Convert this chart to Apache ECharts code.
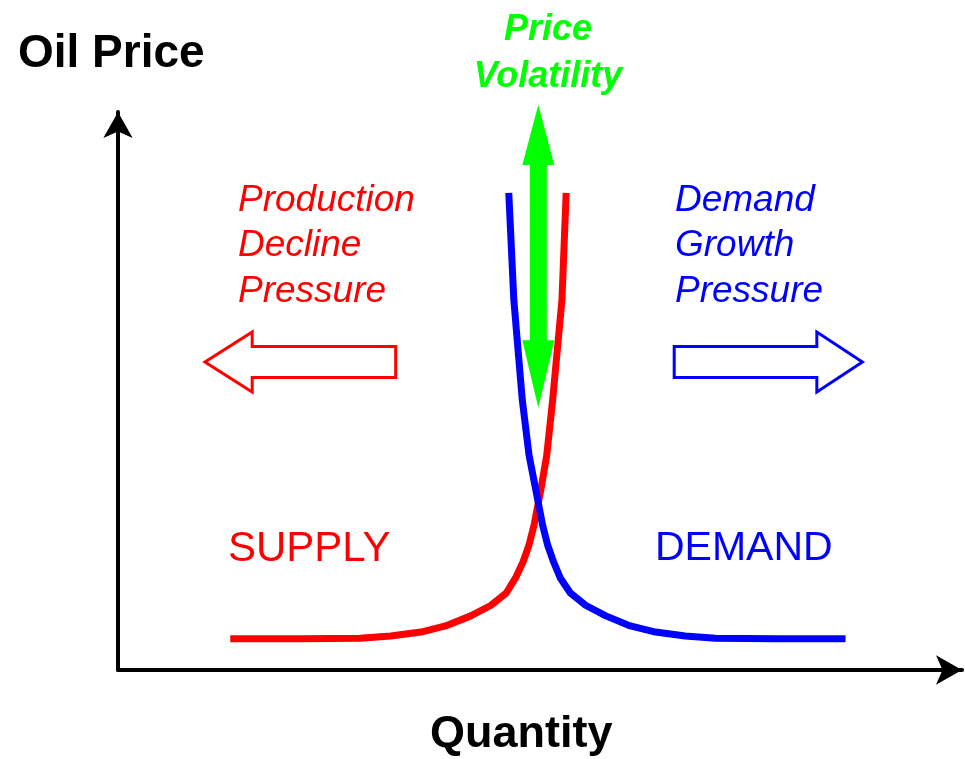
<!DOCTYPE html>
<html lang="en">
  <head>
    <meta charset="UTF-8" />
    <title>Oil Price Volatility</title>
    <style>
      html, body { margin: 0; padding: 0; background: #fff; }
    </style>
  </head>
  <body>
    <div id="main" style="width: 965px; height: 759px"></div>

    <script src="https://cdn.jsdelivr.net/npm/echarts@6/dist/echarts.min.js"></script>
    <script>
      // ===== data (quantity 0-100, price 0-100) =====
      const supplyQ = [13.3, 21.6, 28.7, 32.3, 35.9, 38.8, 41.8, 44.2, 46.0, 47.1, 48.0, 48.7, 49.3, 50.1, 50.8, 51.5, 52.6, 53.1]
      const supplyP = [5.6, 5.6, 5.7, 6.1, 6.8, 7.9, 9.7, 11.6, 13.8, 16.5, 19.4, 22.4, 26.0, 32.3, 38.5, 48.4, 66.3, 85.5]
      const demandQ = [86.2, 77.9, 70.8, 67.2, 63.7, 60.7, 57.8, 55.4, 53.6, 52.4, 51.6, 50.9, 50.3, 49.5, 48.7, 47.9, 46.9, 46.3]
      const demandP = [5.6, 5.6, 5.7, 6.1, 6.8, 7.9, 9.7, 11.6, 13.8, 16.5, 19.4, 22.4, 26.0, 32.3, 38.5, 48.4, 66.3, 85.5]

      // pressure arrows: [tail quantity, head base quantity, tip quantity, price]
      const supplyArrow = [32.9, 15.9, 10.3, 55.2]
      const demandArrow = [65.9, 82.8, 88.2, 55.2]
      // volatility arrow: [quantity, low tip, low head base, high head base, high tip]
      const volatilityArrow = [49.8, 47.0, 59.1, 90.5, 101.3]

      const myChart = echarts.init(document.getElementById('main'))

      const toPairs = (xs, ys) => xs.map((x, i) => [x, ys[i]])

      // hollow block arrow pointing left or right
      function pressureRender(color) {
        return function (params, api) {
          const tail = api.coord([api.value(0), api.value(3)])
          const base = api.coord([api.value(1), api.value(3)])
          const tip = api.coord([api.value(2), api.value(3)])
          const y = tail[1]
          const bh = 15.5
          const hh = 30
          return {
            type: 'polygon',
            shape: {
              points: [
                [tail[0], y - bh], [base[0], y - bh], [base[0], y - hh], [tip[0], y],
                [base[0], y + hh], [base[0], y + bh], [tail[0], y + bh]
              ]
            },
            style: { fill: '#fff', stroke: color, lineWidth: 3, lineJoin: 'miter' }
          }
        }
      }

      const option = {
        backgroundColor: '#fff',
        animation: false,
        grid: { left: 118, right: 3, top: 112, bottom: 89 },
        xAxis: {
          type: 'value', min: 0, max: 100,
          axisLine: { show: true, symbol: ['none', 'arrow'], symbolSize: [22, 26], lineStyle: { color: '#000', width: 4 } },
          axisTick: { show: false }, axisLabel: { show: false }, splitLine: { show: false }
        },
        yAxis: {
          type: 'value', min: 0, max: 100,
          axisLine: { show: true, symbol: ['none', 'arrow'], symbolSize: [22, 26], lineStyle: { color: '#000', width: 4 } },
          axisTick: { show: false }, axisLabel: { show: false }, splitLine: { show: false }
        },
        series: [
          {
            name: 'Supply', type: 'line', data: toPairs(supplyQ, supplyP),
            smooth: false, showSymbol: false, lineStyle: { color: '#ff0000', width: 7, join: 'round' }, z: 3
          },
          {
            name: 'Demand', type: 'line', data: toPairs(demandQ, demandP),
            smooth: false, showSymbol: false, lineStyle: { color: '#0000ff', width: 7, join: 'round' }, z: 3
          },
          {
            type: 'custom', data: [supplyArrow], renderItem: pressureRender('#ff0000'), clip: false
          },
          {
            type: 'custom', data: [demandArrow], renderItem: pressureRender('#0000ff'), clip: false
          },
          {
            type: 'custom', data: [volatilityArrow], clip: false, z: 5,
            renderItem: function (params, api) {
              const x = api.coord([api.value(0), 0])[0]
              const lowTip = api.coord([0, api.value(1)])[1]
              const lowBase = api.coord([0, api.value(2)])[1]
              const highBase = api.coord([0, api.value(3)])[1]
              const highTip = api.coord([0, api.value(4)])[1]
              const sw = 8.5
              const hw = 16
              return {
                type: 'polygon',
                shape: {
                  points: [
                    [x, highTip], [x + hw, highBase], [x + sw, highBase], [x + sw, lowBase], [x + hw, lowBase],
                    [x, lowTip], [x - hw, lowBase], [x - sw, lowBase], [x - sw, highBase], [x - hw, highBase]
                  ]
                },
                style: { fill: '#00ff00' }
              }
            }
          }
        ],
        graphic: [
          { type: 'text', left: 18, top: 31, style: { text: 'Oil Price', font: 'bold 46px "Liberation Sans", Arial, sans-serif', fill: '#000' } },
          { type: 'text', left: 430, top: 712, style: { text: 'Quantity', font: 'bold 45px "Liberation Sans", Arial, sans-serif', fill: '#000' } },
          { type: 'text', x: 548, y: 30, style: { text: 'Price', font: 'italic bold 36px "Liberation Sans", Arial, sans-serif', fill: '#00ff00', align: 'center', verticalAlign: 'middle' } },
          { type: 'text', x: 548, y: 77, style: { text: 'Volatility', font: 'italic bold 36px "Liberation Sans", Arial, sans-serif', fill: '#00ff00', align: 'center', verticalAlign: 'middle' } },
          { type: 'text', x: 238, y: 201, style: { text: 'Production', font: 'italic 37px "Liberation Sans", Arial, sans-serif', fill: '#ff0000', verticalAlign: 'middle' } },
          { type: 'text', x: 238, y: 246, style: { text: 'Decline', font: 'italic 37px "Liberation Sans", Arial, sans-serif', fill: '#ff0000', verticalAlign: 'middle' } },
          { type: 'text', x: 238, y: 292, style: { text: 'Pressure', font: 'italic 37px "Liberation Sans", Arial, sans-serif', fill: '#ff0000', verticalAlign: 'middle' } },
          { type: 'text', x: 675, y: 201, style: { text: 'Demand', font: 'italic 37px "Liberation Sans", Arial, sans-serif', fill: '#0000ff', verticalAlign: 'middle' } },
          { type: 'text', x: 675, y: 246, style: { text: 'Growth', font: 'italic 37px "Liberation Sans", Arial, sans-serif', fill: '#0000ff', verticalAlign: 'middle' } },
          { type: 'text', x: 675, y: 292, style: { text: 'Pressure', font: 'italic 37px "Liberation Sans", Arial, sans-serif', fill: '#0000ff', verticalAlign: 'middle' } },
          { type: 'text', x: 228, y: 549, style: { text: 'SUPPLY', font: '42px "Liberation Sans", Arial, sans-serif', fill: '#ff0000', verticalAlign: 'middle' } },
          { type: 'text', x: 655, y: 549, style: { text: 'DEMAND', font: '41px "Liberation Sans", Arial, sans-serif', fill: '#0000ff', verticalAlign: 'middle' } }
        ]
      }

      myChart.setOption(option)
    </script>
  </body>
</html>
